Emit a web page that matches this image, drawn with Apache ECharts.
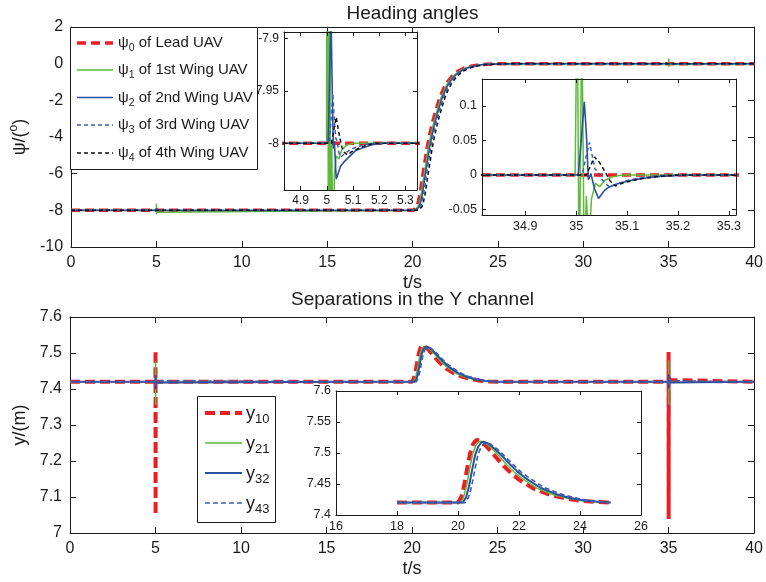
<!DOCTYPE html>
<html><head><meta charset="utf-8">
<script src="https://cdn.jsdelivr.net/npm/echarts@6/dist/echarts.min.js"></script>
<style>html,body{margin:0;padding:0;background:#fff}#c{width:766px;height:582px}</style>
</head><body><div id="c"></div>
<script>
// ---------------- data ----------------
// Heading angles (t, psi in degrees)
const psi0 = [[0,-8],[20.05,-8],[20.15,-7.95],[20.25,-7.8],[20.35,-7.5],[20.45,-7.05],[20.55,-6.4],[20.7,-5.5],[20.85,-4.6],[21.0,-3.9],[21.2,-3.1],[21.4,-2.45],[21.6,-1.85],[21.8,-1.4],[22.0,-1.05],[22.3,-0.7],[22.6,-0.45],[23.0,-0.25],[23.5,-0.12],[24.0,-0.05],[25.0,-0.01],[26.0,0],[40,0]];
const psi1 = [[0,-8],[4.999,-8],[5.003,-7.64],[5.007,-8.22],[5.011,-7.78],[5.015,-8.14],[5.019,-8.0],[5.024,-8.11],[5.029,-8.03],[5.036,-8.012],[5.046,-8.015],[5.058,-8.006],[5.075,-8.002],[5.1,-8],
  [20.12,-8],[20.22,-7.95],[20.32,-7.8],[20.42,-7.5],[20.52,-7.05],[20.62,-6.4],[20.77,-5.5],[20.92,-4.6],[21.07,-3.9],[21.27,-3.1],[21.47,-2.45],[21.67,-1.85],[21.87,-1.4],[22.07,-1.05],[22.37,-0.7],[22.67,-0.45],[23.07,-0.25],[23.57,-0.12],[24.07,-0.05],[25.07,-0.01],[26.07,0],
  [34.998,0],[35.002,0.28],[35.006,-0.18],[35.011,0.24],[35.016,-0.14],[35.02,-0.03],[35.025,-0.11],[35.03,-0.035],[35.038,-0.012],[35.046,-0.017],[35.056,-0.008],[35.07,-0.003],[35.09,0],[40,0]];
const psi2 = [[0,-8],[5.005,-8],[5.01,-7.95],[5.016,-7.875],[5.021,-7.95],[5.025,-8.005],[5.029,-7.998],[5.036,-8.034],[5.043,-8.029],[5.052,-8.022],[5.065,-8.018],[5.085,-8.013],[5.11,-8.007],[5.14,-8.004],[5.18,-8.001],[5.22,-8],
  [20.19,-8],[20.29,-7.95],[20.39,-7.8],[20.49,-7.5],[20.59,-7.05],[20.69,-6.4],[20.84,-5.5],[20.99,-4.6],[21.14,-3.9],[21.34,-3.1],[21.54,-2.45],[21.74,-1.85],[21.94,-1.4],[22.14,-1.05],[22.44,-0.7],[22.74,-0.45],[23.14,-0.25],[23.64,-0.12],[24.14,-0.05],[25.14,-0.01],[26.14,0],
  [35.004,0],[35.01,0.05],[35.016,0.106],[35.02,0.06],[35.024,-0.007],[35.029,0.002],[35.036,-0.02],[35.044,-0.034],[35.05,-0.028],[35.056,-0.022],[35.066,-0.017],[35.08,-0.013],[35.1,-0.009],[35.12,-0.006],[35.14,-0.004],[35.165,-0.002],[35.22,0],[40,0]];
const psi3 = [[0,-8],[5.01,-8],[5.017,-7.975],[5.023,-7.953],[5.028,-7.975],[5.034,-7.995],[5.04,-7.998],[5.047,-8.01],[5.054,-8.013],[5.068,-8.01],[5.09,-8.006],[5.12,-8.003],[5.15,-8.001],[5.18,-8],
  [20.26,-8],[20.36,-7.95],[20.46,-7.8],[20.56,-7.5],[20.66,-7.05],[20.76,-6.4],[20.91,-5.5],[21.06,-4.6],[21.21,-3.9],[21.41,-3.1],[21.61,-2.45],[21.81,-1.85],[22.01,-1.4],[22.21,-1.05],[22.51,-0.7],[22.81,-0.45],[23.21,-0.25],[23.71,-0.12],[24.21,-0.05],[25.21,-0.01],[26.21,0],
  [35.012,0],[35.019,0.025],[35.026,0.047],[35.031,0.03],[35.037,0.008],[35.042,0.006],[35.05,-0.006],[35.058,-0.013],[35.066,-0.017],[35.08,-0.013],[35.1,-0.008],[35.13,-0.004],[35.16,-0.001],[35.19,0],[40,0]];
const psi4 = [[0,-8],[5.018,-8],[5.027,-7.987],[5.036,-7.975],[5.046,-7.99],[5.058,-8.004],[5.068,-8.009],[5.079,-8.011],[5.095,-8.008],[5.12,-8.005],[5.15,-8.002],[5.18,-8],
  [20.35,-8],[20.45,-7.95],[20.55,-7.8],[20.65,-7.5],[20.75,-7.05],[20.85,-6.4],[21.0,-5.5],[21.15,-4.6],[21.3,-3.9],[21.5,-3.1],[21.7,-2.45],[21.9,-1.85],[22.1,-1.4],[22.3,-1.05],[22.6,-0.7],[22.9,-0.45],[23.3,-0.25],[23.8,-0.12],[24.3,-0.05],[25.3,-0.01],[26.3,0],
  [35.02,0],[35.028,0.013],[35.036,0.026],[35.046,0.018],[35.058,0.003],[35.066,-0.008],[35.077,-0.016],[35.09,-0.012],[35.106,-0.009],[35.13,-0.005],[35.165,-0.002],[35.2,0],[40,0]];

// Separations in the Y channel (t, m)
const y10 = [[0,7.42],[4.998,7.42],[5.0,7.508],[5.004,7.05],[5.008,7.43],[5.015,7.42],[18,7.42],[20.0,7.42],[20.1,7.428],[20.2,7.447],[20.3,7.475],[20.4,7.5],[20.5,7.515],[20.6,7.521],[20.7,7.52],[20.85,7.515],[21.0,7.507],[21.25,7.493],[21.5,7.479],[21.75,7.467],[22.0,7.457],[22.5,7.442],[23.0,7.433],[23.5,7.427],[24.0,7.423],[24.5,7.421],[25,7.42],[34.998,7.42],[35.0,7.503],[35.004,7.039],[35.01,7.44],[35.03,7.445],[35.06,7.425],[35.1,7.42],[40,7.42]];
const y21 = [[0,7.42],[4.999,7.42],[5.002,7.477],[5.006,7.356],[5.01,7.43],[5.016,7.418],[5.025,7.42],[18,7.42],[20.08,7.42],[20.18,7.428],[20.28,7.447],[20.38,7.474],[20.48,7.498],[20.58,7.512],[20.68,7.518],[20.78,7.519],[20.93,7.515],[21.1,7.508],[21.35,7.495],[21.6,7.481],[21.85,7.469],[22.1,7.459],[22.6,7.443],[23.1,7.433],[23.6,7.427],[24.1,7.423],[24.6,7.421],[25,7.42],[34.999,7.42],[35.002,7.48],[35.006,7.356],[35.01,7.43],[35.016,7.418],[35.025,7.42],[40,7.42]];
const y32 = [[0,7.42],[5.002,7.42],[5.005,7.438],[5.009,7.4],[5.013,7.428],[5.02,7.418],[5.03,7.42],[18,7.42],[20.16,7.42],[20.26,7.428],[20.36,7.446],[20.46,7.472],[20.56,7.496],[20.66,7.51],[20.76,7.517],[20.86,7.518],[21.0,7.515],[21.2,7.507],[21.45,7.495],[21.7,7.482],[21.95,7.47],[22.2,7.46],[22.7,7.444],[23.2,7.434],[23.7,7.427],[24.2,7.423],[24.7,7.421],[25,7.42],[35.002,7.42],[35.005,7.44],[35.009,7.402],[35.013,7.43],[35.02,7.418],[35.03,7.42],[40,7.42]];
const y43 = [[0,7.42],[5.004,7.42],[5.007,7.43],[5.011,7.41],[5.016,7.423],[5.025,7.42],[18,7.42],[20.24,7.42],[20.34,7.428],[20.44,7.445],[20.54,7.47],[20.64,7.494],[20.74,7.508],[20.84,7.515],[20.94,7.517],[21.08,7.514],[21.3,7.506],[21.55,7.494],[21.8,7.482],[22.05,7.47],[22.3,7.461],[22.8,7.445],[23.3,7.435],[23.8,7.428],[24.3,7.423],[24.8,7.421],[25,7.42],[35.004,7.42],[35.007,7.43],[35.011,7.41],[35.016,7.423],[35.025,7.42],[40,7.42]];

// tick labels
const mainXTicks = [0,5,10,15,20,25,30,35,40];
const topYTicks = [-10,-8,-6,-4,-2,0,2];
const botYTicks = [7,7.1,7.2,7.3,7.4,7.5,7.6];
const in1XTicks = [4.9,5,5.1,5.2,5.3];
const in1YTicks = [-8,-7.95,-7.9];
const in2XTicks = [34.9,35,35.1,35.2,35.3];
const in2YTicks = [-0.05,0,0.05,0.1];
const in3XTicks = [16,18,20,22,24,26];
const in3YTicks = [7.4,7.45,7.5,7.55,7.6];

// legend labels
const topLegend = [['ψ','0',' of Lead UAV'],['ψ','1',' of 1st Wing UAV'],['ψ','2',' of 2nd Wing UAV'],['ψ','3',' of 3rd Wing UAV'],['ψ','4',' of 4th Wing UAV']];
const botLegend = [['y','10'],['y','21'],['y','32'],['y','43']];

// ---------------- styling ----------------
const FONT = '"Liberation Sans", Arial, Helvetica, sans-serif';
const INK = '#1a1a1a';
const RED = '#ee1d23', GREEN = '#5dba3b', BLUE = '#2d4f9f', BLUE2 = '#3a5fb5', BLACK = '#111111';

function fmt(v){ return String(parseFloat(Number(v).toFixed(4))); }

const xAxes = [], yAxes = [];
function addAxes(gi, xr, yr, xt, yt, fs, tl, z, xName, yName, xGap, yGap){
  const line = {show:true, onZero:false, lineStyle:{color:INK, width:1}};
  const lab = (vals) => ({show:true, customValues:vals, formatter:fmt, fontSize:fs, fontFamily:FONT, color:INK, margin: fs>14?8:5});
  const tick = (vals) => ({show:true, inside:true, length:tl, customValues:vals, lineStyle:{color:INK, width:1}});
  xAxes.push({type:'value', gridIndex:gi, position:'bottom', min:xr[0], max:xr[1], z:z, axisLine:line, splitLine:{show:false}, axisTick:tick(xt), axisLabel:lab(xt),
    name:xName||'', nameLocation:'middle', nameGap:xGap||0, nameTextStyle:{fontSize:18, fontFamily:FONT, color:INK}});
  xAxes.push({type:'value', gridIndex:gi, position:'top', min:xr[0], max:xr[1], z:z, axisLine:line, splitLine:{show:false}, axisTick:tick(xt), axisLabel:{show:false}});
  yAxes.push({type:'value', gridIndex:gi, position:'left', min:yr[0], max:yr[1], z:z, axisLine:line, splitLine:{show:false}, axisTick:tick(yt), axisLabel:lab(yt),
    name:yName||'', nameLocation:'middle', nameGap:yGap||0, nameRotate:90,
    nameTextStyle:{fontSize:18, fontFamily:FONT, color:INK, rich:{a:{fontSize:18, fontFamily:FONT, color:INK, lineHeight:24}, s:{fontSize:12, fontFamily:FONT, color:INK, lineHeight:12, verticalAlign:'top'}}}});
  yAxes.push({type:'value', gridIndex:gi, position:'right', min:yr[0], max:yr[1], z:z, axisLine:line, splitLine:{show:false}, axisTick:tick(yt), axisLabel:{show:false}});
}
addAxes(0,[0,40],[-10,2],mainXTicks,topYTicks,16,6,1,'t/s','{a|ψ/(}{s|o}{a|)}',27,36);
addAxes(1,[0,40],[7,7.6],mainXTicks,botYTicks,16,6,1,'t/s','{a|y/(m)}',27,36);
addAxes(2,[4.837,5.344],[-8.0445,-7.894],in1XTicks,in1YTicks,12,4,12);
addAxes(3,[34.815,35.314],[-0.058,0.139],in2XTicks,in2YTicks,12.5,4,12);
addAxes(4,[16,26],[7.4,7.6],in3XTicks,in3YTicks,12.5,4,12);

function ln(data, ai, color, width, dash, z){
  return {type:'line', data:data, xAxisIndex:ai*2, yAxisIndex:ai*2, showSymbol:false, symbol:'none', clip:true, silent:true,
    lineStyle:{color:color, width:width, type:dash||'solid', cap:'butt'}, z:z, animation:false};
}
const inWin = (d, a, b) => d.filter(p => p[0] >= a && p[0] <= b);
const series = [];
[0,2,3].forEach(ai => {
  const z = ai === 0 ? 2 : 11;
  series.push(ln(psi0, ai, RED, 3.5, [9,5], z));
  series.push(ln(psi1, ai, GREEN, 1.5, null, z));
  series.push(ln(psi2, ai, BLUE, 1.6, null, z));
  series.push(ln(psi3, ai, BLUE2, 1.5, [4,3], z));
  series.push(ln(psi4, ai, BLACK, 1.5, [4,3], z));
});
series.push(ln(y10, 1, RED, 4, [10,5], 2));
series.push(ln(y21, 1, GREEN, 1.5, null, 2));
series.push(ln(y32, 1, BLUE, 2, null, 2));
series.push(ln(y43, 1, BLUE2, 1.6, [5,3], 2));
series.push(ln(inWin(y10,18,25), 4, RED, 4, [10,5], 11));
series.push(ln(inWin(y21,18,25), 4, GREEN, 1.5, null, 11));
series.push(ln(inWin(y32,18,25), 4, BLUE, 2, null, 11));
series.push(ln(inWin(y43,18,25), 4, BLUE2, 1.6, [5,3], 11));

// ---------------- legends & titles (graphics) ----------------
const graphics = [];
graphics.push({type:'text', z:20, style:{x:412.5, y:14, text:'Heading angles', fontSize:19, fontFamily:FONT, fill:INK, align:'center', verticalAlign:'middle'}});
graphics.push({type:'text', z:20, style:{x:412.5, y:300, text:'Separations in the Y channel', fontSize:19, fontFamily:FONT, fill:INK, align:'center', verticalAlign:'middle'}});

const topStyles = [[RED,3.5,[9,5]],[GREEN,1.5,null],[BLUE,1.6,null],[BLUE2,1.5,[4,3]],[BLACK,1.5,[4,3]]];
const topRows = [43,70,97.5,125,153];
graphics.push({type:'rect', z:20, shape:{x:70.5, y:27.5, width:187, height:142}, style:{fill:'#fff', stroke:INK, lineWidth:1}});
topLegend.forEach((t,i) => {
  const s = topStyles[i], yy = topRows[i];
  graphics.push({type:'line', z:21, shape:{x1:77, y1:yy, x2:113, y2:yy}, style:{stroke:s[0], lineWidth:s[1], lineDash:s[2]||null}});
  graphics.push({type:'text', z:21, style:{x:118, y:yy, text:'{a|'+t[0]+'}{s|'+t[1]+'}{a|'+t[2]+'}', align:'left', verticalAlign:'middle',
    rich:{a:{fontSize:15, fontFamily:FONT, fill:INK, lineHeight:22}, s:{fontSize:10.5, fontFamily:FONT, fill:INK, lineHeight:12, verticalAlign:'bottom'}}}});
});

const botStyles = [[RED,4,[10,5]],[GREEN,1.5,null],[BLUE,2,null],[BLUE2,1.6,[5,3]]];
const botRows = [413,443,473,503];
graphics.push({type:'rect', z:20, shape:{x:197.5, y:396.5, width:78, height:126}, style:{fill:'#fff', stroke:INK, lineWidth:1}});
botLegend.forEach((t,i) => {
  const s = botStyles[i], yy = botRows[i];
  graphics.push({type:'line', z:21, shape:{x1:205, y1:yy, x2:242, y2:yy}, style:{stroke:s[0], lineWidth:s[1], lineDash:s[2]||null}});
  graphics.push({type:'text', z:21, style:{x:246, y:yy+1, text:'{a|'+t[0]+'}{s|'+t[1]+'}', align:'left', verticalAlign:'middle',
    rich:{a:{fontSize:18, fontFamily:FONT, fill:INK, lineHeight:24}, s:{fontSize:13, fontFamily:FONT, fill:INK, lineHeight:14, verticalAlign:'bottom'}}}});
});

const chart = echarts.init(document.getElementById('c'), null, {renderer:'canvas'});
chart.setOption({
  animation:false,
  backgroundColor:'#fff',
  grid:[
    {left:70, top:27, width:685, height:220, z:0},
    {left:70, top:317, width:685, height:216, z:0},
    {left:284, top:32, width:133, height:158, show:true, backgroundColor:'#fff', borderWidth:0, z:10},
    {left:482, top:79, width:254, height:136, show:true, backgroundColor:'#fff', borderWidth:0, z:10},
    {left:336, top:391, width:305, height:124, show:true, backgroundColor:'#fff', borderWidth:0, z:10}
  ],
  xAxis: xAxes,
  yAxis: yAxes,
  series: series,
  graphic: graphics
});
</script></body></html>
